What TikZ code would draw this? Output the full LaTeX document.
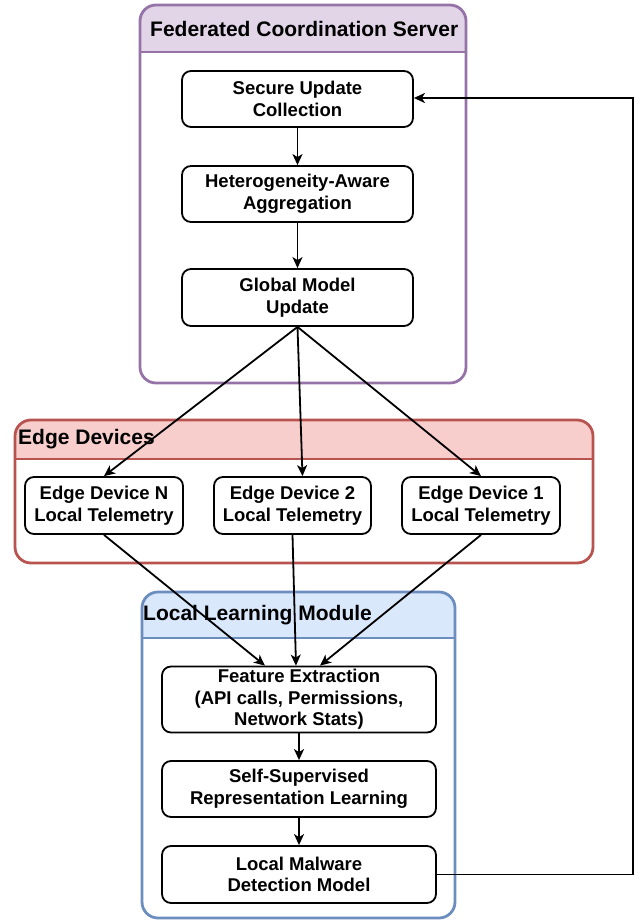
\documentclass[tikz,border=0pt]{standalone}
\usepackage{fontspec}
\setmainfont{Liberation Sans}
\usetikzlibrary{arrows.meta,calc}
\definecolor{servfill}{HTML}{E1D5E7}
\definecolor{servline}{HTML}{9673A6}
\definecolor{edgefill}{HTML}{F8CECC}
\definecolor{edgeline}{HTML}{B85450}
\definecolor{locfill}{HTML}{DAE8FC}
\definecolor{locline}{HTML}{6C8EBF}
\begin{document}
\begin{tikzpicture}[x=1pt,y=-1pt,
    stage/.style={draw,line width=1.8pt,rounded corners=9pt,fill=white,align=center,
        inner sep=0pt,font=\fontsize{18.5}{21.6}\selectfont\bfseries},
    title/.style={anchor=west,inner sep=0pt,font=\fontsize{21}{25}\selectfont\bfseries},
    arr/.style={-{Stealth[length=11pt,width=10pt,inset=3pt]},line width=1.8pt}]
    \useasboundingbox (0,0) rectangle (644,923);
    % containers
    \begin{scope}
        \clip[rounded corners=16pt] (140,5) rectangle (466,383);
        \fill[servfill] (140,5) rectangle (466,52);
    \end{scope}
    \draw[servline,line width=2.8pt] (140,52) -- (466,52);
    \draw[servline,line width=2.8pt,rounded corners=16pt] (140,5) rectangle (466,383);
    \node[title] (servtitle) at (150,28.5) {Federated Coordination Server};
    \begin{scope}
        \clip[rounded corners=16pt] (15,420) rectangle (593,563);
        \fill[edgefill] (15,420) rectangle (593,459);
    \end{scope}
    \draw[edgeline,line width=2.8pt] (15,459) -- (593,459);
    \draw[edgeline,line width=2.8pt,rounded corners=16pt] (15,420) rectangle (593,563);
    \node[title] (edgetitle) at (18,439.5) {Edge Devices};
    \begin{scope}
        \clip[rounded corners=16pt] (142,592) rectangle (455,918);
        \fill[locfill] (142,592) rectangle (455,638);
    \end{scope}
    \draw[locline,line width=2.8pt] (142,638) -- (455,638);
    \draw[locline,line width=2.8pt,rounded corners=16pt] (142,592) rectangle (455,918);
    \node[title] (loctitle) at (143,615) {Local Learning Module};
    % server steps
    \node[stage,minimum width=231pt,minimum height=56pt] (suc) at (297.5,99) {Secure Update\\Collection};
    \node[stage,minimum width=231pt,minimum height=56pt] (haa) at (297.5,194) {Heterogeneity-Aware\\Aggregation};
    \node[stage,minimum width=231pt,minimum height=57pt] (gmu) at (297.5,297.5) {Global Model\\Update};
    % edge devices
    \node[stage,minimum width=158pt,minimum height=57pt] (devN) at (104,505.5) {Edge Device N\\Local Telemetry};
    \node[stage,minimum width=157pt,minimum height=57pt] (devB) at (292.5,505.5) {Edge Device 2\\Local Telemetry};
    \node[stage,minimum width=158pt,minimum height=57pt] (devA) at (481,505.5) {Edge Device 1\\Local Telemetry};
    % local steps
    \node[stage,minimum width=274pt,minimum height=66pt] (fex) at (299,699.5) {Feature Extraction\\(API calls, Permissions,\\Network Stats)};
    \node[stage,minimum width=274pt,minimum height=56pt] (ssl) at (299,789) {Self-Supervised\\Representation Learning};
    \node[stage,minimum width=274pt,minimum height=57pt] (lmd) at (299,874.5) {Local Malware\\Detection Model};
    % arrows
    \draw[arr] (suc) -- (haa);
    \draw[arr] (haa) -- (gmu);
    \draw[arr] (gmu.south) -- (devN.north);
    \draw[arr] (gmu.south) -- ($(devB.north)+(10,0)$);
    \draw[arr] (gmu.south) -- (devA.north);
    \draw[arr] (devN.south) -- ($(fex.north)+(-34,0)$);
    \draw[arr] (devB.south) -- ($(fex.north)+(-3,0)$);
    \draw[arr] (devA.south) -- ($(fex.north)+(21,0)$);
    \draw[arr] (fex) -- (ssl);
    \draw[arr] (ssl) -- (lmd);
    \coordinate (back) at (633,98);
    \draw[arr] (lmd.east) -| (back) -- (suc.east |- back);
\end{tikzpicture}
\end{document}
